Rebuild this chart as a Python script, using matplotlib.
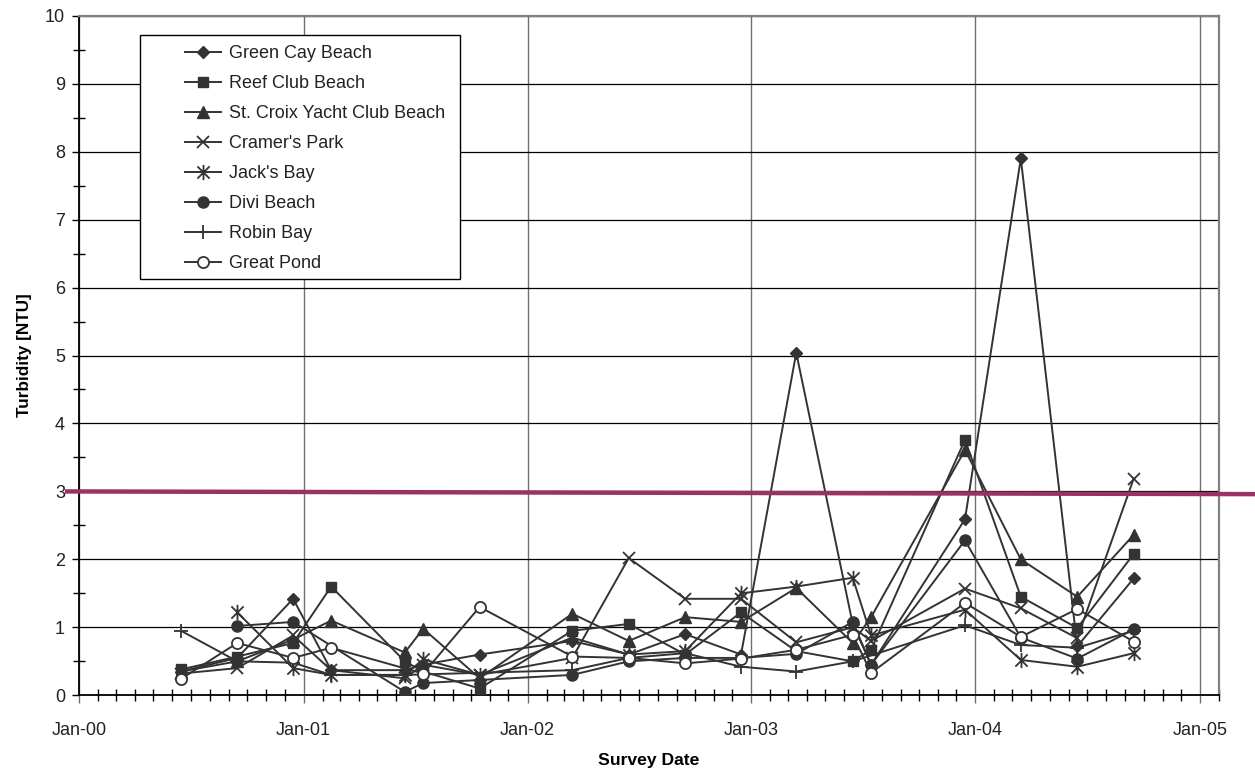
import matplotlib
matplotlib.use("Agg")
import matplotlib.pyplot as plt
import matplotlib.dates as mdates
from matplotlib.path import Path
from matplotlib.patches import Rectangle
from matplotlib.transforms import blended_transform_factory
import numpy as np
import pandas as pd

# ---------------- data ----------------
survey_dates = ["2000-06-15", "2000-09-15", "2000-12-15", "2001-02-15", "2001-06-15",
                "2001-07-15", "2001-10-15", "2002-03-15", "2002-06-15", "2002-09-15",
                "2002-12-15", "2003-03-15", "2003-06-15", "2003-07-15", "2003-12-15",
                "2004-03-15", "2004-06-15", "2004-09-15"]

series_names = ["Green Cay Beach", "Reef Club Beach", "St. Croix Yacht Club Beach",
                "Cramer's Park", "Jack's Bay", "Divi Beach", "Robin Bay", "Great Pond"]

nan = float("nan")
green_cay = [0.35, 0.55, 1.42, 0.37, 0.37, 0.45, 0.60, 0.80, 0.60, 0.90,
             0.60, 5.04, 1.05, 0.45, 2.59, 7.90, 0.72, 1.72]
reef_club = [0.38, 0.57, 0.77, 1.60, 0.50, 0.35, 0.10, 0.95, 1.05, 0.60,
             1.22, 0.65, 0.50, 0.67, 3.76, 1.45, 0.99, 2.08]
st_croix = [0.35, 0.50, 0.82, 1.10, 0.63, 0.98, 0.25, 1.20, 0.80, 1.15,
            1.08, 1.58, 0.77, 1.15, 3.61, 2.00, 1.45, 2.36]
cramers_park = [0.32, 0.40, 0.88, 0.37, 0.25, 0.45, 0.30, 0.55, 2.02, 1.42,
                1.42, 0.78, 1.00, 0.80, 1.57, 1.28, 0.84, 3.19]
jacks_bay = [nan, 1.22, 0.40, 0.30, 0.30, 0.53, 0.30, 0.85, 0.60, 0.65,
             1.50, 1.60, 1.73, 0.88, 1.26, 0.52, 0.42, 0.62]
divi_beach = [nan, 1.02, 1.08, nan, 0.05, 0.18, nan, 0.30, 0.50, 0.55,
              0.55, 0.61, 1.08, 0.45, 2.28, 0.85, 0.54, 0.97]
robin_bay = [0.95, 0.50, 0.48, 0.30, 0.30, nan, nan, 0.37, 0.55, 0.62,
             0.42, 0.35, 0.50, nan, 1.03, 0.74, 0.70, 0.95]
great_pond = [0.24, 0.77, 0.55, 0.70, nan, 0.32, 1.30, 0.57, 0.55, 0.47,
              0.54, 0.67, 0.89, 0.33, 1.36, 0.86, 1.27, 0.79]

standard_ntu = [3.0, 2.96]   # drawn standard line (left end, right end)

x_start, x_end = "2000-01-01", "2005-02-01"

# ---------------- style ----------------
plt.rcParams['font.family'] = ['Liberation Sans', 'DejaVu Sans']

W, H = 1255, 774
fig = plt.figure(figsize=(W / 100, H / 100), dpi=100)
fig.patch.set_facecolor("white")
ax = fig.add_axes([79 / W, 1 - 695.3 / H, (1219 - 79) / W, (695.3 - 15.7) / H])

dates = pd.to_datetime(survey_dates)

star = Path([(0, -1), (0, 1), (-0.8, -0.8), (0.8, 0.8), (-0.8, 0.8), (0.8, -0.8)],
            [Path.MOVETO, Path.LINETO, Path.MOVETO, Path.LINETO, Path.MOVETO, Path.LINETO])

dark = "#333333"
styles = [
    dict(marker="D", ms=6.5, mfc=dark),
    dict(marker="s", ms=7.5, mfc=dark),
    dict(marker="^", ms=8.5, mfc=dark),
    dict(marker="x", ms=8, mfc=dark, mew=1.3),
    dict(marker=star, ms=11, mfc=dark, mew=1.3),
    dict(marker="o", ms=8, mfc=dark),
    dict(marker="+", ms=10, mfc=dark, mew=1.3),
    dict(marker="o", ms=8, mfc="white", mew=1.3),
]
all_series = [green_cay, reef_club, st_croix, cramers_park, jacks_bay,
              divi_beach, robin_bay, great_pond]

for name, vals, st in zip(series_names, all_series, styles):
    v = np.array(vals, dtype=float)
    m = ~np.isnan(v)
    ax.plot(dates[m], v[m], color=dark, lw=1.4, mec=dark, label=name,
            zorder=3, **st)

# axes
ax.set_xlim(pd.Timestamp(x_start), pd.Timestamp(x_end))
ax.set_ylim(0, 10)
ax.set_yticks(range(0, 11))
ax.set_yticks(np.arange(0.5, 10, 1.0), minor=True)
ax.xaxis.set_major_locator(mdates.YearLocator())
ax.xaxis.set_major_formatter(mdates.DateFormatter("%b-%y"))
ax.xaxis.set_minor_locator(mdates.MonthLocator())

ax.yaxis.grid(True, which="major", color="black", lw=0.9, zorder=1)
ax.xaxis.grid(True, which="major", color="#707070", lw=1.0, zorder=1)
ax.set_axisbelow(True)

ax.tick_params(axis="x", which="major", direction="out", length=6, width=1,
               color="#707070", pad=13, labelsize=13, labelcolor="#222222")
ax.tick_params(axis="x", which="minor", direction="inout", length=9, width=1,
               color="black")
ax.tick_params(axis="y", which="major", direction="out", length=5, width=1,
               color="black", pad=5, labelsize=13, labelcolor="#222222")
ax.tick_params(axis="y", which="minor", direction="inout", length=8, width=1,
               color="black")

for s in ("left", "bottom"):
    ax.spines[s].set_color("black")
    ax.spines[s].set_linewidth(1.3)
for s in ("top", "right"):
    ax.spines[s].set_color("#808080")
    ax.spines[s].set_linewidth(1.6)

ax.set_xlabel("Survey Date", fontsize=12.6, fontweight="bold", labelpad=10)
ax.set_ylabel("Turbidity [NTU]", fontsize=12.3, fontweight="bold", labelpad=9)

# standard line (extends past the plot area)
tr = blended_transform_factory(fig.transFigure, ax.transData)
ax.plot([65 / W, 1.0], standard_ntu, transform=tr, color="#993366", lw=3.2,
        clip_on=False, zorder=4, solid_capstyle="butt")

# legend with frame
ax.add_patch(Rectangle((140 / W, 1 - 279 / H), 320 / W, 244 / H,
                       transform=fig.transFigure, facecolor="white",
                       edgecolor="black", lw=1.0, zorder=4, clip_on=False))
leg = ax.legend(loc="upper left", bbox_to_anchor=(185 / W, 1 - 45 / H),
                bbox_transform=fig.transFigure, frameon=False, fontsize=13,
                handlelength=2.0, handletextpad=0.45, labelspacing=0.72,
                borderpad=0, borderaxespad=0)
leg.set_zorder(5)
for t in leg.get_texts():
    t.set_color("#222222")

fig.savefig("out.png", dpi=100)
